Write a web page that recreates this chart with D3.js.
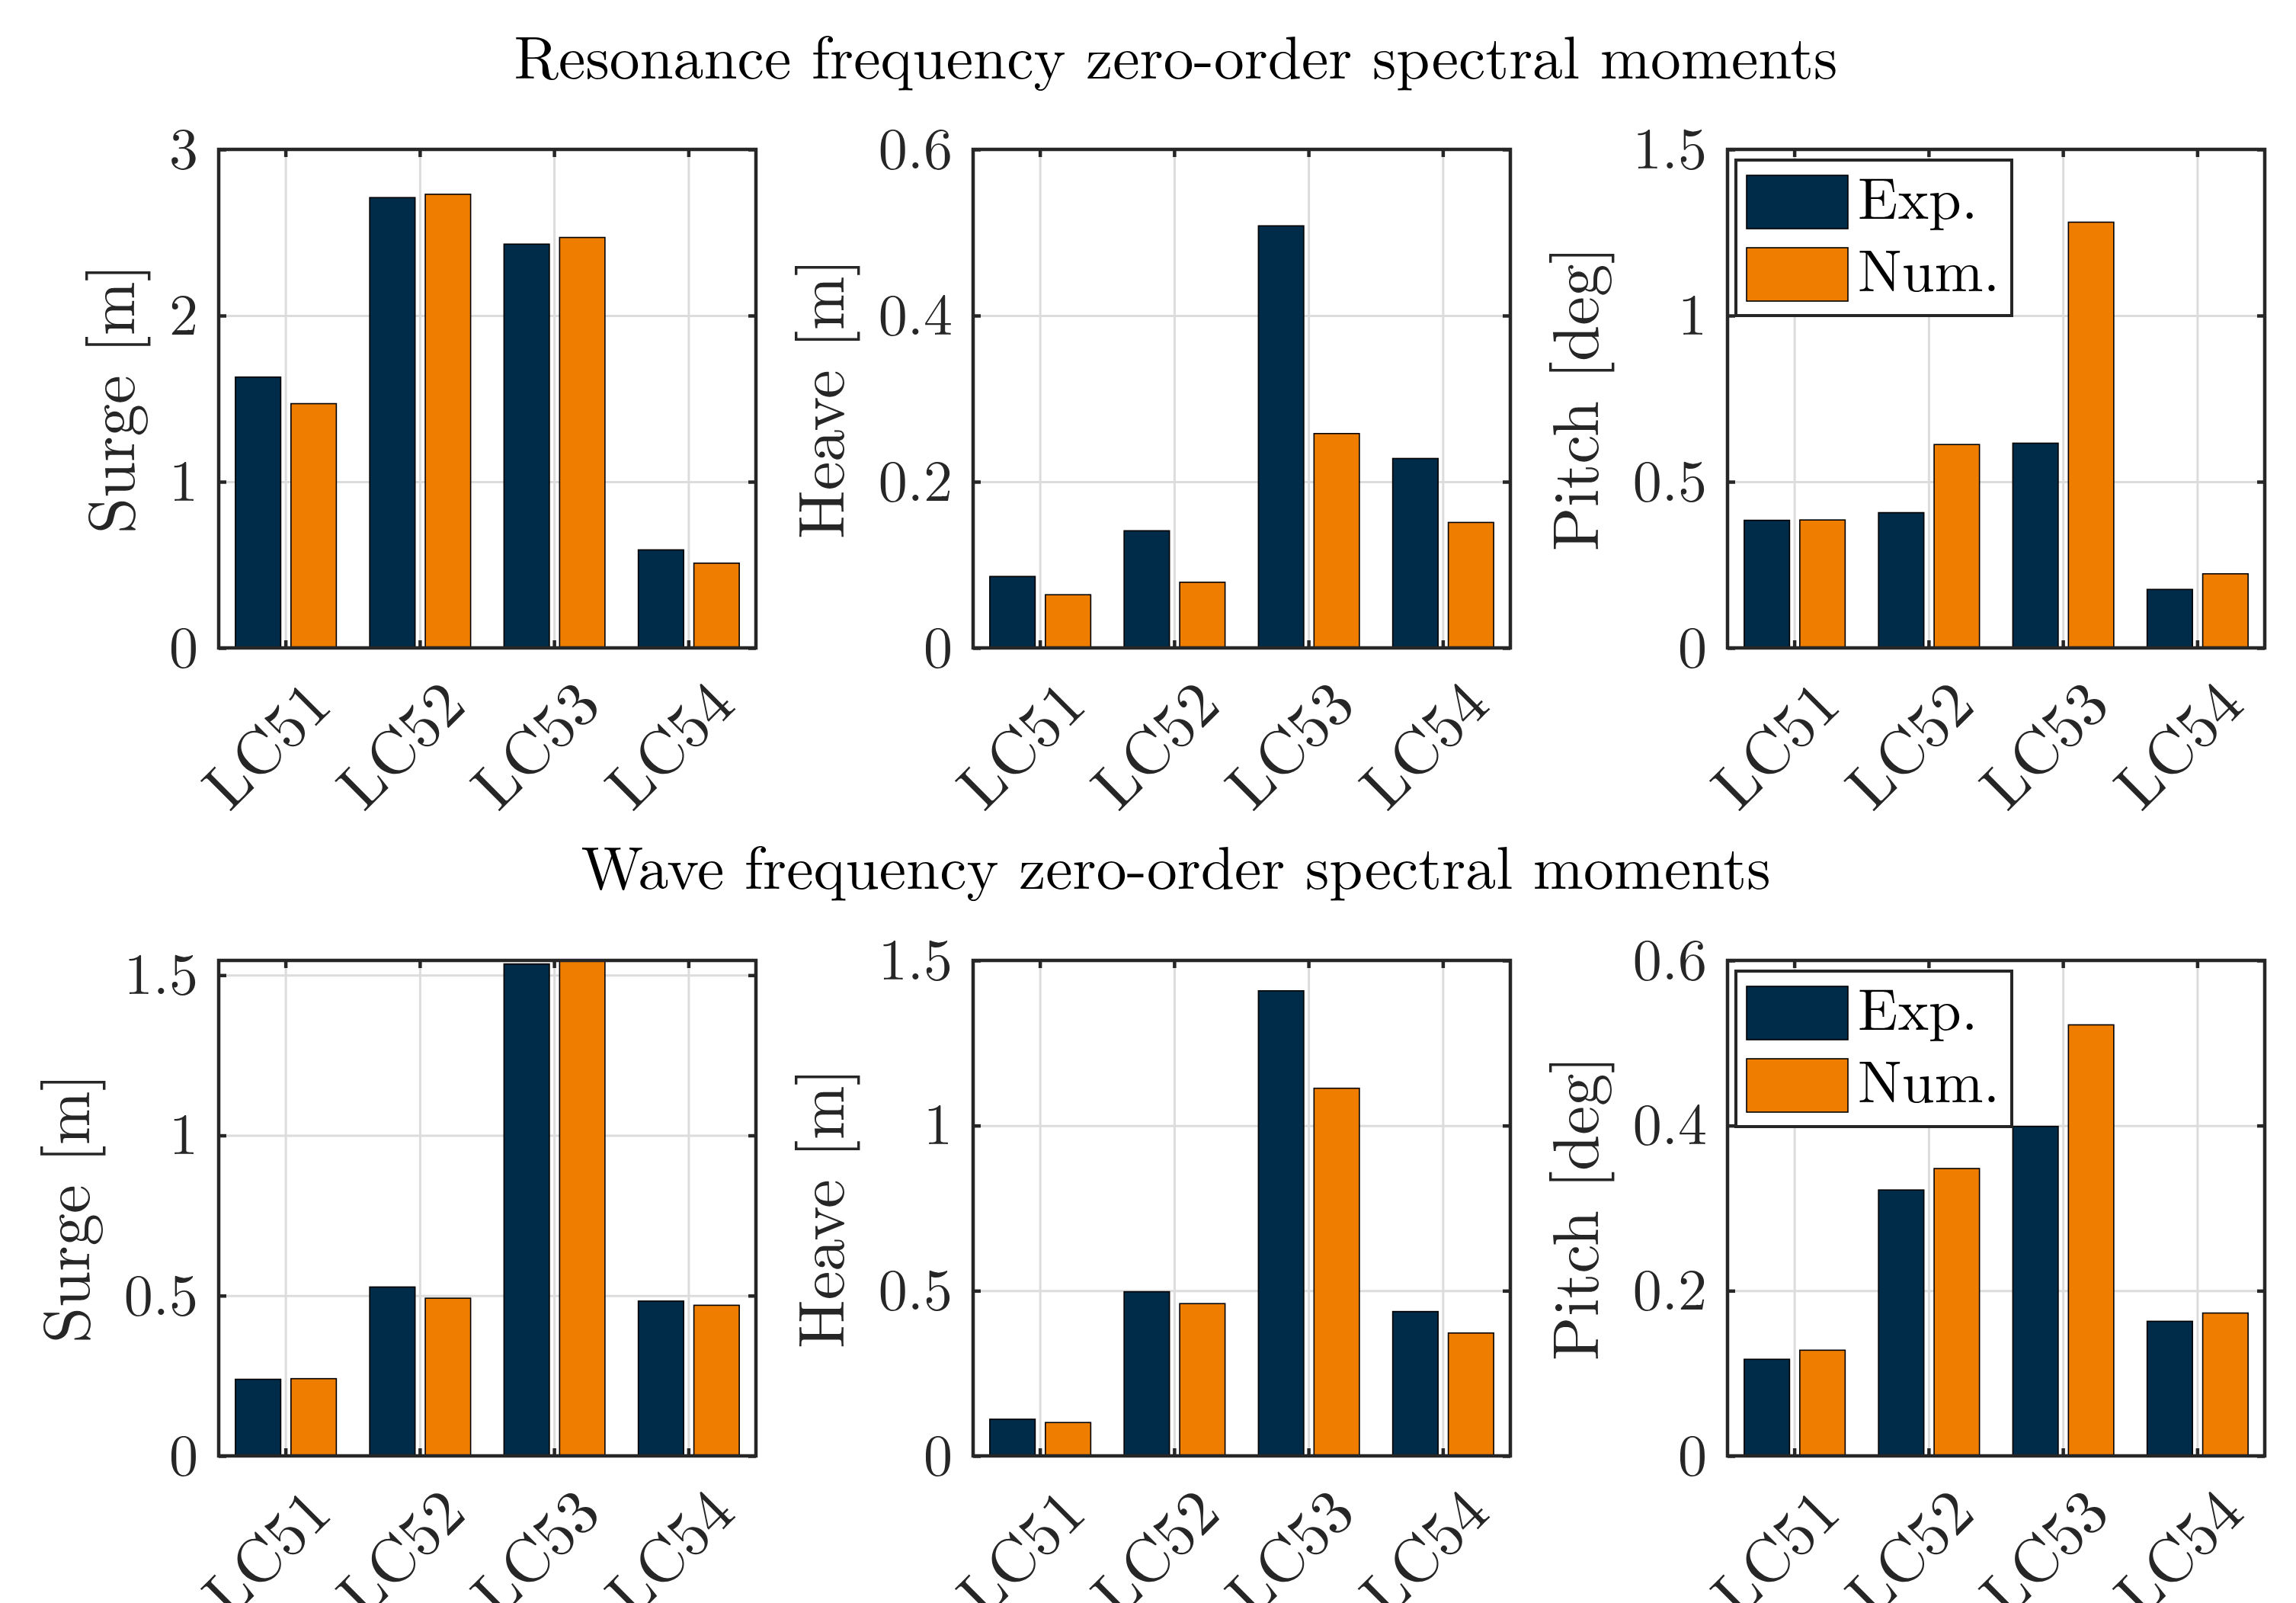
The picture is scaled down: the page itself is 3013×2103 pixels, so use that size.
<!DOCTYPE html>
<html>
<head>
<meta charset="utf-8">
<script src="https://cdn.jsdelivr.net/npm/d3@7"></script>
<style>
  body { margin: 0; background: #fff; }
  svg { display: block; }
  text { font-family: "Latin Modern Roman", "CMU Serif", "Liberation Serif", serif; }
</style>
</head>
<body>
<svg id="chart" width="3013" height="2103"></svg>
<script>
// categories and series
const categories = ["LC51", "LC52", "LC53", "LC54"];
const seriesNames = ["Exp.", "Num."];
const seriesColors = ["#002b49", "#ee7d00"];

// resonance frequency zero-order spectral moments
const resSurgeExp = [1.63, 2.71, 2.43, 0.59];
const resSurgeNum = [1.47, 2.73, 2.47, 0.51];
const resHeaveExp = [0.086, 0.141, 0.508, 0.228];
const resHeaveNum = [0.064, 0.079, 0.258, 0.151];
const resPitchExp = [0.384, 0.407, 0.616, 0.176];
const resPitchNum = [0.385, 0.612, 1.281, 0.223];

// wave frequency zero-order spectral moments
const waveSurgeExp = [0.239, 0.527, 1.535, 0.483];
const waveSurgeNum = [0.241, 0.492, 1.546, 0.470];
const waveHeaveExp = [0.111, 0.497, 1.408, 0.437];
const waveHeaveNum = [0.101, 0.461, 1.113, 0.372];
const wavePitchExp = [0.117, 0.322, 0.399, 0.163];
const wavePitchNum = [0.128, 0.348, 0.522, 0.173];

// y ticks
const surgeTicksRes = [0, 1, 2, 3];
const heaveTicksRes = [0, 0.2, 0.4, 0.6];
const pitchTicksRes = [0, 0.5, 1, 1.5];
const surgeTicksWave = [0, 0.5, 1, 1.5];
const heaveTicksWave = [0, 0.5, 1, 1.5];
const pitchTicksWave = [0, 0.2, 0.4, 0.6];

const rowTitles = ["Resonance frequency zero-order spectral moments",
                   "Wave frequency zero-order spectral moments"];

const panels = [
  { row: 0, col: 0, label: "Surge [m]", exp: resSurgeExp, num: resSurgeNum, ymax: 3, ticks: surgeTicksRes },
  { row: 0, col: 1, label: "Heave [m]", exp: resHeaveExp, num: resHeaveNum, ymax: 0.6, ticks: heaveTicksRes },
  { row: 0, col: 2, label: "Pitch [deg]", exp: resPitchExp, num: resPitchNum, ymax: 1.5, ticks: pitchTicksRes, legend: true },
  { row: 1, col: 0, label: "Surge [m]", exp: waveSurgeExp, num: waveSurgeNum, ymax: 1.546, ticks: surgeTicksWave },
  { row: 1, col: 1, label: "Heave [m]", exp: waveHeaveExp, num: waveHeaveNum, ymax: 1.5, ticks: heaveTicksWave },
  { row: 1, col: 2, label: "Pitch [deg]", exp: wavePitchExp, num: wavePitchNum, ymax: 0.6, ticks: pitchTicksWave, legend: true }
];

// layout
const colLeft = [287, 1277, 2267];
const axW = 705;
const rowTop = [196, 1260];
const rowH = [654, 650];
const titleY = [103, 1166];
const titleX = 1543;

const axisColor = "#262626";
const gridColor = "#dcdcdc";
const tickFont = 76;
const xTickFont = 83;
const labelFont = 85;
const legendFont = 77;

const svg = d3.select("#chart");

rowTitles.forEach((t, i) => {
  svg.append("text")
    .attr("x", titleX)
    .attr("y", titleY[i])
    .attr("text-anchor", "middle")
    .attr("font-size", 79.5)
    .attr("fill", "#000")
    .text(t);
});

// axis helper that keeps only tick lines
const linesOnly = (color, width) => s => {
  s.select(".domain").remove();
  s.selectAll("text").remove();
  s.selectAll("line").attr("stroke", color).attr("stroke-width", width);
};

function drawPanel(p) {
  const left = colLeft[p.col];
  const top = rowTop[p.row];
  const h = rowH[p.row];
  const g = svg.append("g").attr("transform", `translate(${left},${top})`);

  const x0 = d3.scaleBand().domain(categories).range([0, axW]).padding(0);
  const x1 = d3.scaleBand().domain(seriesNames).range([0, x0.bandwidth()])
    .paddingInner(0.184).paddingOuter(0.3);
  const y = d3.scaleLinear().domain([0, p.ymax]).range([h, 0]);
  const fmt = d => String(d);

  // grid
  g.append("g")
    .call(d3.axisLeft(y).tickValues(p.ticks).tickSize(-axW))
    .call(linesOnly(gridColor, 3));
  g.append("g")
    .call(d3.axisBottom(x0).tickSize(h))
    .call(linesOnly(gridColor, 3));

  // bars
  const rows = categories.map((c, i) => ({ cat: c, vals: [p.exp[i], p.num[i]] }));
  g.append("g")
    .selectAll("g")
    .data(rows)
    .join("g")
      .attr("transform", d => `translate(${x0(d.cat)},0)`)
    .selectAll("rect")
    .data(d => d.vals.map((v, k) => ({ key: seriesNames[k], v, k })))
    .join("rect")
      .attr("x", d => x1(d.key))
      .attr("y", d => y(d.v))
      .attr("width", x1.bandwidth())
      .attr("height", d => y(0) - y(d.v))
      .attr("fill", d => seriesColors[d.k])
      .attr("stroke", "#000")
      .attr("stroke-width", 1.6);

  // inward ticks on the right and top
  g.append("g").attr("transform", `translate(${axW},0)`)
    .call(d3.axisRight(y).tickValues(p.ticks).tickSize(-10))
    .call(linesOnly(axisColor, 4.5));
  g.append("g")
    .call(d3.axisTop(x0).tickSize(-10))
    .call(linesOnly(axisColor, 4.5));

  const yAx = g.append("g")
    .call(d3.axisLeft(y).tickValues(p.ticks).tickSize(-10).tickPadding(27).tickFormat(fmt));
  yAx.select(".domain").remove();
  yAx.selectAll("line").attr("stroke", axisColor).attr("stroke-width", 4.5);
  yAx.attr("font-family", null);
  yAx.selectAll("text")
    .attr("font-size", tickFont)
    .attr("fill", axisColor);

  const xAx = g.append("g").attr("transform", `translate(0,${h})`)
    .call(d3.axisBottom(x0).tickSize(-10));
  xAx.select(".domain").remove();
  xAx.selectAll("line").attr("stroke", axisColor).attr("stroke-width", 4.5);
  xAx.attr("font-family", null);
  xAx.selectAll("text")
    .attr("font-size", xTickFont)
    .attr("fill", axisColor)
    .attr("y", 0)
    .attr("dy", "0.35em")
    .attr("text-anchor", "end")
    .attr("transform", "translate(43,58) rotate(-45)");

  // axes box
  g.append("rect")
    .attr("width", axW).attr("height", h)
    .attr("fill", "none")
    .attr("stroke", axisColor)
    .attr("stroke-width", 4.5);

  // y label
  const bb = yAx.node().getBBox();
  g.append("text")
    .attr("transform", `translate(${bb.x - 46},${h / 2}) rotate(-90)`)
    .attr("text-anchor", "middle")
    .attr("font-size", labelFont)
    .attr("fill", axisColor)
    .text(p.label);

  // legend
  if (p.legend) {
    const lg = g.append("g").attr("transform", "translate(11,14)");
    lg.append("rect")
      .attr("width", 362).attr("height", 204)
      .attr("fill", "#fff")
      .attr("stroke", axisColor)
      .attr("stroke-width", 4);
    const item = lg.selectAll("g.item")
      .data(seriesNames)
      .join("g")
        .attr("class", "item")
        .attr("transform", (d, i) => `translate(14,${20 + i * 95})`);
    item.append("rect")
      .attr("width", 133).attr("height", 70)
      .attr("fill", (d, i) => seriesColors[i])
      .attr("stroke", "#000")
      .attr("stroke-width", 1.6);
    item.append("text")
      .attr("x", 146)
      .attr("y", 57)
      .attr("font-size", legendFont)
      .attr("fill", "#000")
      .text(d => d);
  }
}

panels.forEach(drawPanel);
</script>
</body>
</html>
